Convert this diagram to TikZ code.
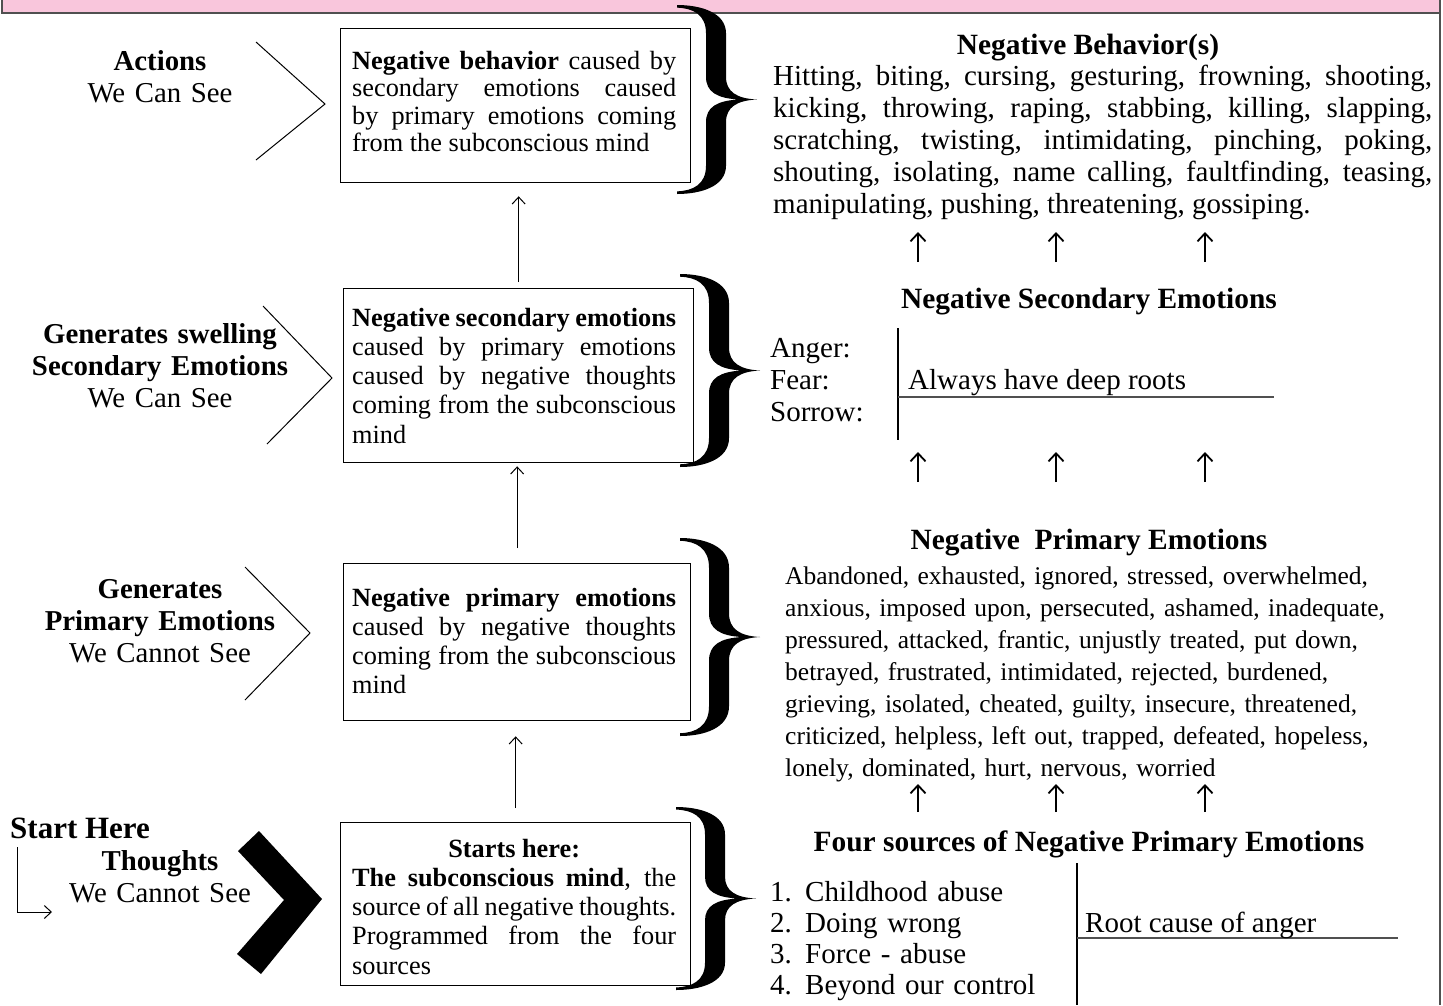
\documentclass[tikz,border=0pt]{standalone}
\usepackage{fontspec}
\setmainfont{Liberation Serif}
\usetikzlibrary{arrows.meta}
\definecolor{hdrpink}{RGB}{249,198,220}
\definecolor{hdrgray}{RGB}{80,80,80}
\newcommand\boxfont{\fontsize{26.3}{29.3}\selectfont}
\newcommand\boxfonta{\fontsize{26.3}{27.5}\selectfont}
\newcommand\bodyfont{\fontsize{29}{32}\selectfont}
\newcommand\primfont{\fontsize{25.5}{32}\selectfont}
\newcommand\titlefont{\fontsize{29.4}{32}\selectfont\bfseries}
\newcommand\labfont{\fontsize{28.8}{32}\selectfont}
\newcommand\curlybrace[3]{%
  \begin{scope}[shift={(#1,#2)}, yscale={(#3-#2)/100}]
  \fill (0,0) .. controls (24,0) and (49,4) .. (49,15) -- (49,38)
    .. controls (49,46) and (60,49.5) .. (80,50)
    .. controls (60,50.5) and (49,54) .. (49,62) -- (49,85)
    .. controls (49,96) and (24,100) .. (0,100) -- (0,98.6)
    .. controls (16,98.3) and (29,95) .. (29,85) -- (29,62)
    .. controls (29,54) and (40,50.6) .. (62,50)
    .. controls (40,49.4) and (29,46) .. (29,38) -- (29,15)
    .. controls (29,5) and (16,1.7) .. (0,1.4) -- cycle;
  \end{scope}}
\tikzset{
  box/.style={draw, line width=1.3pt, inner sep=0pt, anchor=north west},
  boxtext/.style={inner sep=0pt, text width=324pt, align=justify, font=\boxfont, anchor=base west},
  lab/.style={inner sep=0pt, text width=330pt, align=center, font=\labfont, anchor=base},
  title/.style={inner sep=0pt, font=\titlefont, anchor=base},
  conn/.style={line width=1pt, -{Straight Barb[length=7pt,width=13pt,line width=1pt]}},
  upar/.style={line width=1.8pt, -{Straight Barb[length=8pt,width=15pt,line width=1.8pt]}},
  chev/.style={line width=1pt},
  rule/.style={line width=1.3pt}
}
\begin{document}
\begin{tikzpicture}[x=1pt,y=-1pt]
\useasboundingbox (0,0) rectangle (1443,1005);
% header band
\fill[hdrpink] (2,-3) rectangle (1440,13);
\draw[hdrgray, line width=2.5pt] (2,-3) -- (2,13) -- (1440,13);
\draw[hdrgray, line width=2.5pt] (1440,-3) -- (1440,1005);

% left labels
\node[lab] (l1) at (160,70) {\textbf{Actions}\\We Can See};
\node[lab] (l2) at (160,343) {\textbf{Generates swelling}\\\textbf{Secondary Emotions}\\We Can See};
\node[lab] (l3) at (160,598) {\textbf{Generates}\\\textbf{Primary Emotions}\\We Cannot See};
\node[inner sep=0pt, font=\fontsize{31}{32}\selectfont\bfseries, anchor=base west] (sh) at (10,838) {Start Here};
\node[lab] (l4) at (160,870) {\textbf{Thoughts}\\We Cannot See};

% chevrons
\draw[chev] (256,42) -- (325,104) -- (256,160);
\draw[chev] (263,306) -- (332,378) -- (267,444);
\draw[chev] (245,567) -- (310,633) -- (245,700);
\fill (238,851) -- (259,831) -- (322,899) -- (261,974) -- (237,954) -- (284,900) -- cycle;
% start here arrow
\coordinate (sa) at (17,847);
\coordinate (sb) at (52,912);
\draw[conn] (sa) |- (sb);

% boxes
\node[box, minimum width=350pt, minimum height=154pt] (b1) at (340,28) {};
\node[box, minimum width=350pt, minimum height=174pt] (b2) at (343,288) {};
\node[box, minimum width=347pt, minimum height=157pt] (b3) at (343,563) {};
\node[box, minimum width=350pt, minimum height=163pt] (b4) at (340,822) {};

\node[boxtext, font=\boxfonta] (t1) at (352,69) {\textbf{Negative behavior} caused by\linebreak secondary emotions caused\linebreak by primary emotions coming\linebreak from the subconscious mind};
\node[boxtext] (t2) at (352,326) {\textbf{Negative secondary emotions}\linebreak caused by primary emotions\linebreak caused by negative thoughts\linebreak coming from the subconscious\linebreak mind};
\node[boxtext] (t3) at (352,606) {\textbf{Negative primary emotions}\linebreak caused by negative thoughts\linebreak coming from the subconscious\linebreak mind};
\node[boxtext] (t4) at (352,857) {\makebox[\linewidth]{\textbf{Starts here:}}\par \textbf{The subconscious mind}, the\linebreak source of all negative thoughts.\linebreak Programmed from the four\linebreak sources};

\draw[conn, shorten <=6pt, shorten >=13pt] (b2.north) -- (b2.north |- b1.south);
\draw[conn, shorten <=15pt, shorten >=3pt] (b3.north) -- (b3.north |- b2.south);
\draw[conn, shorten <=14pt, shorten >=15pt] (b4.north) -- (b4.north |- b3.south);

% braces
\curlybrace{677}{5}{194}
\curlybrace{680}{274}{467}
\curlybrace{680}{538}{736}
\curlybrace{676}{807}{990}

% right column: behavior
\node[title] (h1) at (1088,54) {Negative Behavior(s)};
\node[inner sep=0pt, text width=659pt, align=justify, font=\bodyfont, anchor=base west] (p1) at (773,85) {Hitting, biting, cursing, gesturing, frowning, shooting,\linebreak kicking, throwing, raping, stabbing, killing, slapping,\linebreak scratching, twisting, intimidating, pinching, poking,\linebreak shouting, isolating, name calling, faultfinding, teasing,\linebreak manipulating, pushing, threatening, gossiping.};
\foreach \ax in {918,1056,1205} \draw[upar] (\ax,262) -- (\ax,232);

% secondary
\node[title] (h2) at (1089,308) {Negative Secondary Emotions};
\node[inner sep=0pt, text width=130pt, align=left, font=\bodyfont, anchor=base west] (sec) at (770,357) {Anger:\\Fear:\\Sorrow:};
\draw[rule] (898,328) -- (898,440);
\draw[hdrgray, line width=2pt] (898,397) -- (1274,397);
\node[inner sep=0pt, font=\bodyfont, anchor=base west] (deep) at (908,389) {Always have deep roots};
\foreach \ax in {918,1056,1205} \draw[upar] (\ax,482) -- (\ax,452);

% primary
\node[title] (h3) at (1089,549) {Negative\ \ Primary Emotions};
\node[inner sep=0pt, text width=640pt, align=left, font=\primfont, anchor=base west] (p3) at (785,584) {Abandoned, exhausted, ignored, stressed, overwhelmed,\\anxious, imposed upon, persecuted, ashamed, inadequate,\\pressured, attacked, frantic, unjustly treated, put down,\\betrayed, frustrated, intimidated, rejected, burdened,\\grieving, isolated, cheated, guilty, insecure, threatened,\\criticized, helpless, left out, trapped, defeated, hopeless,\\lonely, dominated, hurt, nervous, worried};
\foreach \ax in {918,1056,1205} \draw[upar] (\ax,812) -- (\ax,784);

% four sources
\node[title] (h4) at (1089,851) {Four sources of Negative Primary Emotions};
\node[inner sep=0pt, text width=300pt, align=left, font=\fontsize{29}{31}\selectfont, anchor=base west] (src) at (770,901) {\makebox[35pt][l]{1.}Childhood abuse\\\makebox[35pt][l]{2.}Doing wrong\\\makebox[35pt][l]{3.}Force - abuse\\\makebox[35pt][l]{4.}Beyond our control};
\draw[rule] (1077,863) -- (1077,1005);
\draw[hdrgray, line width=2pt] (1077,938) -- (1398,938);
\node[inner sep=0pt, font=\bodyfont, anchor=base west] (root) at (1085,932) {Root cause of anger};
\end{tikzpicture}
\end{document}
